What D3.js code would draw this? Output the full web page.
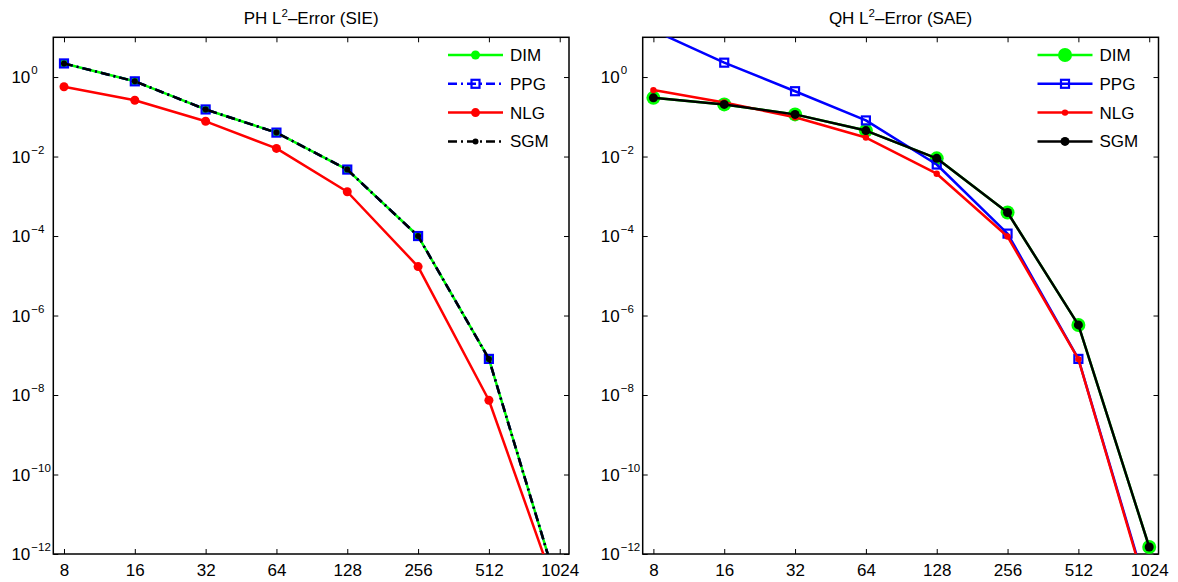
<!DOCTYPE html>
<html>
<head>
<meta charset="utf-8">
<script src="https://cdn.jsdelivr.net/npm/d3@7/dist/d3.min.js"></script>
<style>
  body { margin: 0; background: #fff; }
  svg { display: block; font-family: "Liberation Sans", Arial, Helvetica, sans-serif; }
</style>
</head>
<body>
<svg id="chart" width="1178" height="582"></svg>
<script>
// ---------- data ----------
const nValues = [8, 16, 32, 64, 128, 256, 512, 1024];
const xTickLabels = ["8", "16", "32", "64", "128", "256", "512", "1024"];
const yTickExponents = [0, -2, -4, -6, -8, -10, -12];
const seriesNames = ["DIM", "PPG", "NLG", "SGM"];

// PH L2-Error (SIE)
const phDIM = [2.2, 0.78, 0.153, 0.040, 0.0047, 1.0e-4, 8.1e-8, 1.0e-13];
const phPPG = [2.2, 0.78, 0.153, 0.040, 0.0047, 1.0e-4, 8.1e-8, 1.0e-13];
const phNLG = [0.57, 0.26, 0.077, 0.016, 0.0013, 1.7e-5, 7.4e-9, 6.8e-14];
const phSGM = [2.2, 0.78, 0.153, 0.040, 0.0047, 1.0e-4, 8.1e-8, 1.0e-13];

// QH L2-Error (SAE)
const qhDIM = [0.30, 0.205, 0.115, 0.045, 0.0090, 3.9e-4, 5.8e-7, 1.5e-12];
const qhPPG = [15, 2.3, 0.44, 0.081, 0.0063, 1.15e-4, 8.1e-8, 8.0e-14];
const qhNLG = [0.47, 0.23, 0.097, 0.030, 0.0037, 9.7e-5, 8.0e-8, 7.0e-14];
const qhSGM = [0.30, 0.205, 0.115, 0.045, 0.0090, 3.9e-4, 5.8e-7, 1.5e-12];

const svg = d3.select("#chart");
const FS = 17;

function drawPanel(cfg) {
  const { x0, x1, y0, y1, title, series, id } = cfg;
  const x = d3.scaleLog().base(2).domain([8 * Math.pow(2, -0.151), 1024 * Math.pow(2, 0.131)]).range([x0, x1]);
  const y = d3.scaleLog().base(10).domain([1e-12, 10]).range([y1, y0]);
  const g = svg.append("g");

  g.append("clipPath").attr("id", "clip" + id)
    .append("rect").attr("x", x0).attr("y", y0).attr("width", x1 - x0).attr("height", y1 - y0);

  // axes (ticks inward)
  const yTickVals = yTickExponents.map(e => Math.pow(10, e));
  const axB = d3.axisBottom(x).tickValues(nValues).tickSizeInner(-5).tickSizeOuter(0).tickPadding(10)
    .tickFormat((d, i) => xTickLabels[i]);
  const axT = d3.axisTop(x).tickValues(nValues).tickSizeInner(-5).tickSizeOuter(0).tickFormat("");
  const axL = d3.axisLeft(y).tickValues(yTickVals).tickSizeInner(-5).tickSizeOuter(0).tickFormat("");
  const axR = d3.axisRight(y).tickValues(yTickVals).tickSizeInner(-5).tickSizeOuter(0).tickFormat("");

  const gb = g.append("g").attr("transform", `translate(0,${y1})`).call(axB);
  gb.selectAll("text").attr("font-size", FS).attr("fill", "#000").attr("font-family", "Liberation Sans, Arial, sans-serif");
  g.append("g").attr("transform", `translate(0,${y0})`).call(axT);
  g.append("g").attr("transform", `translate(${x0},0)`).call(axL);
  g.append("g").attr("transform", `translate(${x1},0)`).call(axR);
  g.selectAll(".domain").remove();
  g.selectAll(".tick line").attr("stroke", "#000").attr("stroke-width", 1);

  // y tick labels as 10^e
  yTickExponents.forEach(e => {
    const yy = y(Math.pow(10, e));
    g.append("text").attr("x", x0 - 23).attr("y", yy + 6).attr("text-anchor", "end")
      .attr("font-size", FS).attr("fill", "#000").text("10");
    g.append("text").attr("x", x0 - 22).attr("y", yy - 3).attr("text-anchor", "start")
      .attr("font-size", 11.5).attr("fill", "#000").text(e < 0 ? "\u2212" + (-e) : String(e));
  });

  // box
  g.append("rect").attr("x", x0).attr("y", y0).attr("width", x1 - x0).attr("height", y1 - y0)
    .attr("fill", "none").attr("stroke", "#000").attr("stroke-width", 1.5);

  // title
  const tt = g.append("text").attr("x", (x0 + x1) / 2).attr("y", 24).attr("text-anchor", "middle")
    .attr("font-size", FS).attr("fill", "#000");
  tt.append("tspan").text(title[0] + " L");
  tt.append("tspan").attr("dy", -7).attr("font-size", 11.5).text("2");
  tt.append("tspan").attr("dy", 7).text("\u2013Error (" + title[1] + ")");

  // series
  const plot = g.append("g").attr("clip-path", `url(#clip${id})`);
  const line = d3.line().x((d, i) => x(nValues[i])).y(d => y(d));
  series.forEach(s => {
    plot.append("path").datum(s.values).attr("d", line)
      .attr("fill", "none").attr("stroke", s.color).attr("stroke-width", s.lw)
      .attr("stroke-dasharray", s.dash || null).attr("stroke-linejoin", "round");
    const pts = s.values.map((v, i) => [x(nValues[i]), y(v)]);
    drawMarkers(plot, pts, s);
  });

  // legend
  const lx0 = x1 - 121, lx1 = x1 - 66, ltx = x1 - 59;
  series.forEach((s, i) => {
    const ly = 55 + i * 28.8;
    g.append("line").attr("x1", lx0).attr("x2", lx1).attr("y1", ly).attr("y2", ly)
      .attr("stroke", s.color).attr("stroke-width", s.lw).attr("stroke-dasharray", s.dash || null);
    drawMarkers(g, [[(lx0 + lx1) / 2, ly]], s);
    g.append("text").attr("x", ltx).attr("y", ly + 6).attr("font-size", FS).attr("fill", "#000").text(s.name);
  });
}

function drawMarkers(sel, pts, s) {
  pts.forEach(p => {
    if (s.marker === "circle") {
      sel.append("circle").attr("cx", p[0]).attr("cy", p[1]).attr("r", s.ms).attr("fill", s.color).attr("stroke", "none");
    } else if (s.marker === "square") {
      sel.append("rect").attr("x", p[0] - s.ms).attr("y", p[1] - s.ms).attr("width", 2 * s.ms).attr("height", 2 * s.ms)
        .attr("fill", "none").attr("stroke", s.color).attr("stroke-width", 2.2);
    }
  });
}

const dashDot = "9,4,2,4";

drawPanel({
  id: "L", x0: 53.3, x1: 569, y0: 37.3, y1: 554, title: ["PH", "SIE"],
  series: [
    { name: seriesNames[0], values: phDIM, color: "#00ff00", lw: 2.5, marker: "circle", ms: 4.5 },
    { name: seriesNames[1], values: phPPG, color: "#0000ff", lw: 2.5, marker: "square", ms: 4, dash: dashDot },
    { name: seriesNames[2], values: phNLG, color: "#ff0000", lw: 2.5, marker: "circle", ms: 4.5 },
    { name: seriesNames[3], values: phSGM, color: "#000000", lw: 2.5, marker: "circle", ms: 3, dash: dashDot }
  ]
});

drawPanel({
  id: "R", x0: 642.7, x1: 1158.5, y0: 37.3, y1: 554, title: ["QH", "SAE"],
  series: [
    { name: seriesNames[0], values: qhDIM, color: "#00ff00", lw: 2.5, marker: "circle", ms: 7 },
    { name: seriesNames[1], values: qhPPG, color: "#0000ff", lw: 2.5, marker: "square", ms: 4 },
    { name: seriesNames[2], values: qhNLG, color: "#ff0000", lw: 2.5, marker: "circle", ms: 3.2 },
    { name: seriesNames[3], values: qhSGM, color: "#000000", lw: 2.5, marker: "circle", ms: 4.5 }
  ]
});
</script>
</body>
</html>
